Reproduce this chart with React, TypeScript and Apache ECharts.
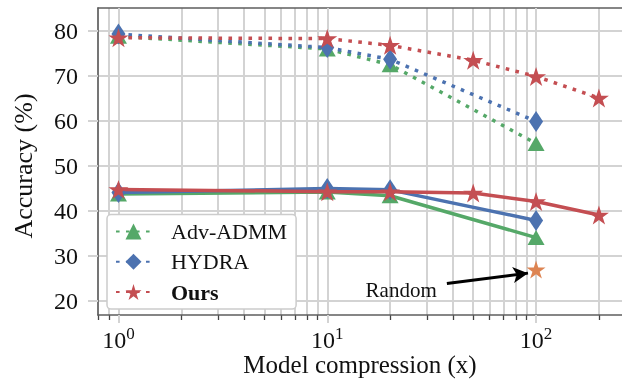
import React, { useEffect, useRef } from "react";
import * as echarts from "echarts";

const FONT = "'Liberation Serif', 'Times New Roman', serif";

// ---- data (x = model compression, y = accuracy %) ----
const compressionAll = [1, 10, 20, 50, 100, 200];
const compressionBase = [1, 10, 20, 100];

const admmClean = [78.8, 76.0, 72.5, 55.0];
const hydraClean = [79.3, 76.3, 73.7, 59.9];
const oursClean = [78.5, 78.3, 76.8, 73.5, 69.9, 65.1];

const admmRobust = [43.8, 44.2, 43.4, 34.1];
const hydraRobust = [44.1, 45.0, 44.7, 37.9];
const oursRobust = [44.8, 44.3, 44.3, 44.0, 42.1, 39.1];

const randomCompression = [100];
const randomRobust = [27.0];

const legendNames = ["Adv-ADMM", "HYDRA", "Ours"];

const yTicks = [20, 30, 40, 50, 60, 70, 80];
const xMajorTicks = [1, 10, 100];
const xMinorTicks = [0.8, 0.9, 2, 3, 4, 5, 6, 7, 8, 9, 20, 30, 40, 50, 60, 70, 80, 90, 200];
const xRange = [0.798, 258];
const yRange = [16.9, 85.1];

// annotation "Random" with arrow (data units)
const arrowFrom = [37.4, 23.9];
const arrowTo = [91.5, 26.2];
const randomLabelAt = [22.6, 22.4];

const GREEN = "#55a868";
const BLUE = "#4c72b0";
const RED = "#c44e52";
const ORANGE = "#dd8452";

const lg = (v: number) => Math.log10(v);
const pairs = (xs: number[], ys: number[]) => xs.map((x, i) => [lg(x), ys[i]]);

const STAR = (() => {
  const pts: string[] = [];
  for (let i = 0; i < 10; i++) {
    const r = i % 2 === 0 ? 1 : 0.382;
    const a = -Math.PI / 2 + (i * Math.PI) / 5;
    pts.push(`${(r * Math.cos(a)).toFixed(4)} ${(r * Math.sin(a)).toFixed(4)}`);
  }
  return "path://M" + pts.join(" L") + " Z";
})();

const DOT: number[] = [3.6, 6.4];
const TRI = { symbol: "triangle", symbolSize: [17, 15] };
const DIA = { symbol: "diamond", symbolSize: [14, 21] };
const STR = { symbol: STAR, symbolSize: [20, 19] };

function lineSeries(name: string, data: number[][], color: string, dotted: boolean, sym: any) {
  return {
    type: "line",
    name,
    data,
    xAxisIndex: 0,
    yAxisIndex: 0,
    symbol: sym.symbol,
    symbolSize: sym.symbolSize,
    showSymbol: true,
    lineStyle: { color, width: 3.5, type: dotted ? DOT : "solid", cap: "butt" },
    itemStyle: { color, borderWidth: 0 },
    emphasis: { disabled: true },
    silent: true,
  };
}

export default function App() {
  const ref = useRef<HTMLDivElement>(null);
  useEffect(() => {
    document.body.style.margin = "0";
    const chart = echarts.init(ref.current!, null, { renderer: "svg" });
    const xmin = lg(xRange[0]);
    const xmax = lg(xRange[1]);
    const gridLine = { show: true, lineStyle: { color: "#d3d3d3", width: 2 } };
    const spine = { show: true, onZero: false, lineStyle: { color: "#5e5e5e", width: 1.6 } };
    const option: any = {
      animation: false,
      grid: [
        { left: 98, right: 0, top: 8, bottom: 64 },
        { left: 98, right: 0, top: 8, bottom: 64 },
      ],
      xAxis: [
        {
          type: "value",
          gridIndex: 0,
          position: "bottom",
          min: xmin,
          max: xmax,
          axisLine: spine,
          axisTick: {
            show: true,
            customValues: xMajorTicks.map(lg),
            length: 8,
            lineStyle: { color: "#d3d3d3", width: 2 },
          },
          axisLabel: {
            customValues: xMajorTicks.map(lg),
            margin: 10,
            formatter: (v: number) => `{b|10}{s|${Math.round(v)}}`,
            rich: {
              b: { fontFamily: FONT, fontSize: 24, color: "#111", lineHeight: 30 },
              s: { fontFamily: FONT, fontSize: 17, color: "#111", lineHeight: 17, verticalAlign: "top" },
            },
          },
          splitLine: gridLine,
          z: 1,
        },
        {
          type: "value",
          gridIndex: 1,
          position: "bottom",
          min: xmin,
          max: xmax,
          axisLine: { show: false },
          axisTick: {
            show: true,
            customValues: xMinorTicks.map(lg),
            length: 5,
            lineStyle: { color: "#444", width: 1.3 },
          },
          axisLabel: { show: false },
          splitLine: gridLine,
          z: 0,
        },
        {
          type: "value",
          gridIndex: 1,
          position: "top",
          min: xmin,
          max: xmax,
          axisLine: spine,
          axisTick: { show: false },
          axisLabel: { show: false },
          splitLine: { show: false },
        },
      ],
      yAxis: [
        {
          type: "value",
          gridIndex: 0,
          min: yRange[0],
          max: yRange[1],
          axisLine: spine,
          axisTick: { show: true, customValues: yTicks, length: 10, lineStyle: { color: "#d3d3d3", width: 2 } },
          axisLabel: {
            customValues: yTicks,
            margin: 20,
            fontFamily: FONT,
            fontSize: 24,
            color: "#111",
          },
          splitLine: gridLine,
          z: 1,
        },
        {
          type: "value",
          gridIndex: 1,
          min: yRange[0],
          max: yRange[1],
          show: false,
          splitLine: { show: false },
        },
      ],
      legend: {
        data: legendNames,
        orient: "vertical",
        left: 107,
        top: 214.5,
        itemWidth: 35,
        itemHeight: 20,
        itemGap: 8.3,
        padding: [6, 9, 6, 8],
        backgroundColor: "#ffffff",
        borderColor: "#cccccc",
        borderWidth: 1.5,
        borderRadius: 4,
        selectedMode: false,
        formatter: (name: string) => (name === "Ours" ? "{bold|Ours}" : name),
        textStyle: {
          fontFamily: FONT,
          fontSize: 22,
          color: "#111",
          lineHeight: 20,
          padding: [0, 0, 0, 15],
          rich: {
            bold: { fontFamily: FONT, fontSize: 22, fontWeight: "bold", color: "#111", lineHeight: 20 },
          },
        },
      },
      series: [
        lineSeries("Adv-ADMM", pairs(compressionBase, admmClean), GREEN, true, TRI),
        lineSeries("HYDRA", pairs(compressionBase, hydraClean), BLUE, true, DIA),
        lineSeries("Ours", pairs(compressionAll, oursClean), RED, true, STR),
        lineSeries("Adv-ADMM (robust)", pairs(compressionBase, admmRobust), GREEN, false, TRI),
        lineSeries("HYDRA (robust)", pairs(compressionBase, hydraRobust), BLUE, false, DIA),
        lineSeries("Ours (robust)", pairs(compressionAll, oursRobust), RED, false, STR),
        {
          type: "scatter",
          name: "Random",
          data: pairs(randomCompression, randomRobust),
          symbol: STAR,
          symbolSize: [19, 18],
          itemStyle: { color: ORANGE, opacity: 1 },
          emphasis: { disabled: true },
          silent: true,
          markLine: {
            silent: true,
            symbol: ["none", "arrow"],
            symbolSize: 14,
            lineStyle: { color: "#000", width: 3, type: "solid" },
            itemStyle: { color: "#000" },
            label: { show: false },
            data: [
              [
                { coord: [lg(arrowFrom[0]), arrowFrom[1]], symbol: "none" },
                { coord: [lg(arrowTo[0]), arrowTo[1]], symbol: "arrow", symbolSize: [12, 15] },
              ],
            ],
          },
          markPoint: {
            silent: true,
            symbol: "circle",
            symbolSize: 1,
            itemStyle: { color: "rgba(0,0,0,0)" },
            label: {
              show: true,
              position: "inside",
              formatter: "Random",
              fontFamily: FONT,
              fontSize: 21,
              color: "#111",
            },
            data: [{ coord: [lg(randomLabelAt[0]), randomLabelAt[1]] }],
          },
        },
      ],
      graphic: [
        {
          type: "text",
          x: 23,
          y: 166,
          rotation: Math.PI / 2,
          style: {
            text: "Accuracy (%)",
            fontFamily: FONT,
            fontSize: 26,
            fill: "#111",
            textAlign: "center",
            textVerticalAlign: "middle",
          },
        },
        {
          type: "text",
          x: 360,
          y: 364,
          style: {
            text: "Model compression (x)",
            fontFamily: FONT,
            fontSize: 25,
            fill: "#111",
            textAlign: "center",
            textVerticalAlign: "middle",
          },
        },
      ],
    };
    chart.setOption(option);
    return () => chart.dispose();
  }, []);
  return <div ref={ref} style={{ position: "fixed", left: 0, top: 0, width: 622, height: 379 }} />;
}
